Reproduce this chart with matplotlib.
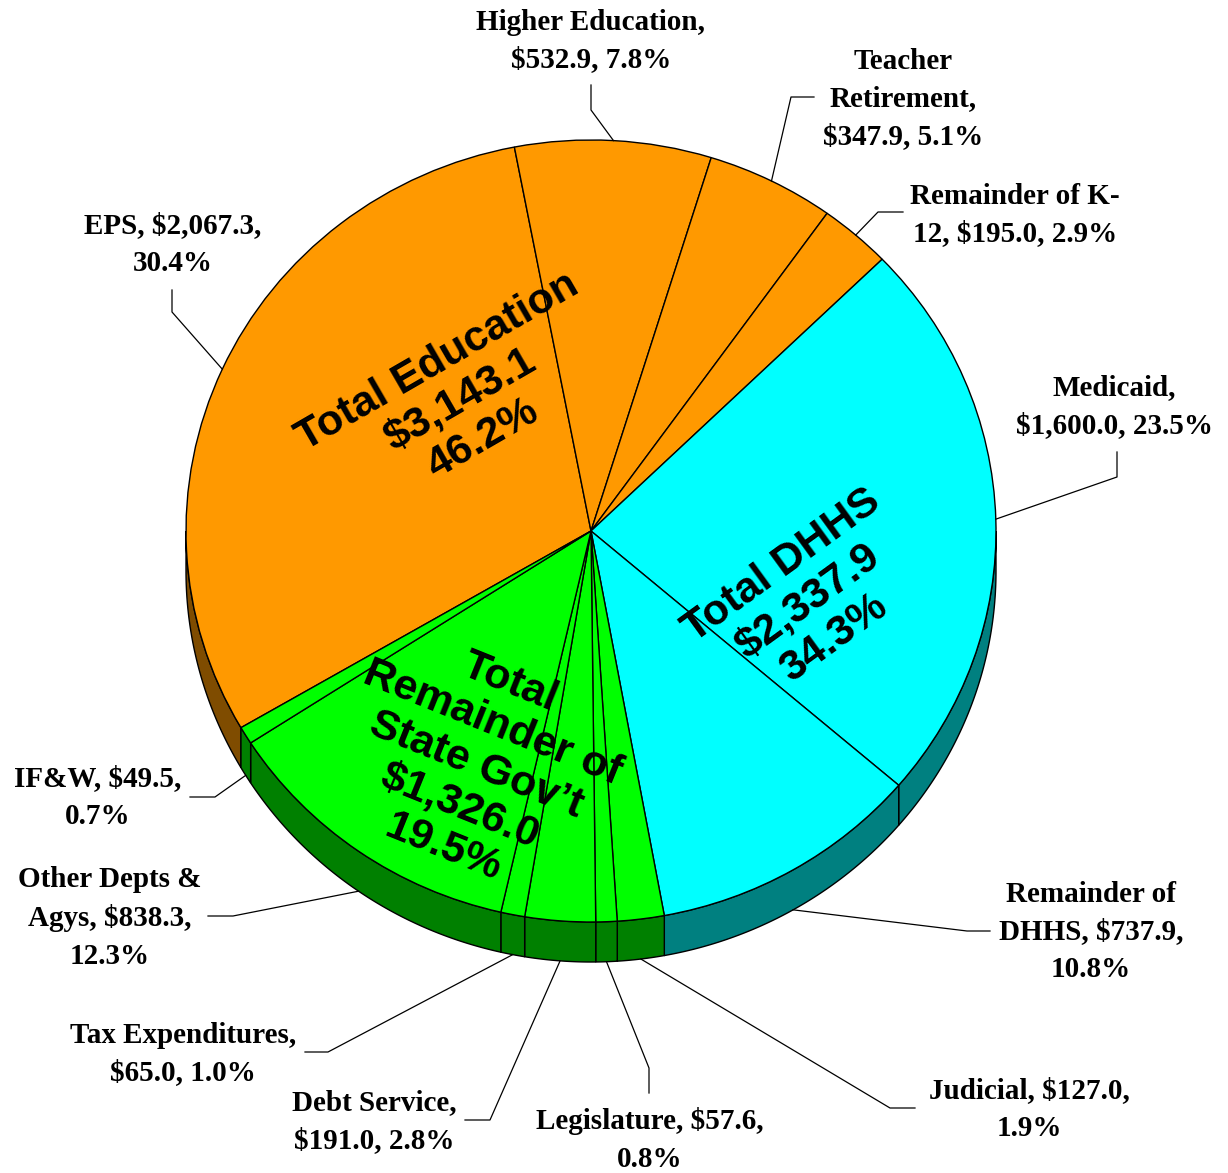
import numpy as np
import matplotlib
matplotlib.use("Agg")
import matplotlib.pyplot as plt

# ---------------- data ----------------
categories = ["EPS", "Higher Education", "Teacher Retirement", "Remainder of K-12",
              "Medicaid", "Remainder of DHHS", "Judicial", "Legislature",
              "Debt Service", "Tax Expenditures", "Other Depts & Agys", "IF&W"]
values = [2067.3, 532.9, 347.9, 195.0, 1600.0, 737.9, 127.0, 57.6, 191.0, 65.0, 838.3, 49.5]
groups = ["edu", "edu", "edu", "edu", "dhhs", "dhhs", "gov", "gov", "gov", "gov", "gov", "gov"]
slice_labels = ["EPS, $2,067.3,\n30.4%",
                "Higher Education,\n$532.9, 7.8%",
                "Teacher\nRetirement,\n$347.9, 5.1%",
                "Remainder of K-\n12, $195.0, 2.9%",
                "Medicaid,\n$1,600.0, 23.5%",
                "Remainder of\nDHHS, $737.9,\n10.8%",
                "Judicial, $127.0,\n1.9%",
                "Legislature, $57.6,\n0.8%",
                "Debt Service,\n$191.0, 2.8%",
                "Tax Expenditures,\n$65.0, 1.0%",
                "Other Depts &\nAgys, $838.3,\n12.3%",
                "IF&W, $49.5,\n0.7%"]
group_keys = ["edu", "dhhs", "gov"]
group_names = ["Total Education", "Total DHHS", "Total\nRemainder of\nState Gov\u2019t"]
group_totals = ["$3,143.1", "$2,337.9", "$1,326.0"]
group_pcts = ["46.2%", "34.3%", "19.5%"]

# ---------------- layout (pixels, origin top-left) ----------------
W, H = 1228, 1173
CX, CY, RX, RY, DEPTH = 591, 531, 405, 391, 40
START_ANGLE = 210.2

top_colors = {"edu": "#FF9900", "dhhs": "#00FFFF", "gov": "#00FF00"}
side_colors = {"edu": "#7F4C00", "dhhs": "#008080", "gov": "#008000"}

label_pos = [(173, 245), (591, 41), (903, 99), (1015, 215), (1114, 407), (1091, 932),
             (1029, 1110), (650, 1140), (374, 1122), (183, 1054), (110, 918), (98, 798)]
leader_elbow = [(172, 312), (591, 110), (791, 97), (878, 212), (1117, 477), (967, 931),
                (890, 1108), (649, 1068), (490, 1120), (328, 1052), (233, 916), (215, 797)]
leader_end = [(172, 290), (591, 85), (814, 97), (903, 212), (1117, 452), (990, 931),
              (915, 1108), (649, 1093), (465, 1120), (305, 1052), (208, 916), (190, 797)]
group_text_pos = [(460, 400), (808, 602), (476, 765)]
group_text_rot = [30, 36, -22]

# ---------------- figure ----------------
fig = plt.figure(figsize=(W / 100, H / 100), dpi=100)
ax = fig.add_axes([0, 0, 1, 1])
wedges, _ = ax.pie(values, startangle=START_ANGLE, counterclock=False,
                   colors=[top_colors[g] for g in groups],
                   wedgeprops=dict(edgecolor="black", linewidth=1.0), radius=1)
ax.set_aspect("auto")
ax.set_xlim(-CX / RX, (W - CX) / RX)
ax.set_ylim(-(H - CY) / RY, CY / RY)
ax.axis("off")
d = DEPTH / RY

# side walls (visible lower half)
for w, g in zip(wedges, groups):
    t1n = w.theta1 % 360
    t2n = t1n + (w.theta2 - w.theta1)
    for lo, hi in [(180, 360), (540, 720)]:
        a, b = max(t1n, lo), min(t2n, hi)
        if b > a:
            ts = np.radians(np.linspace(a, b, 120))
            xs = np.concatenate([np.cos(ts), np.cos(ts[::-1])])
            ys = np.concatenate([np.sin(ts), np.sin(ts[::-1]) - d])
            ax.fill(xs, ys, facecolor=side_colors[g], edgecolor="black",
                    linewidth=1.0, zorder=0.5)

# overlay axes in pixel space
lab = fig.add_axes([0, 0, 1, 1])
lab.set_xlim(0, W)
lab.set_ylim(H, 0)
lab.axis("off")
lab.set_facecolor("none")

fig.canvas.draw()
for w, txt, pos, el, en in zip(wedges, slice_labels, label_pos, leader_elbow, leader_end):
    mid = np.radians((w.theta1 + w.theta2) / 2)
    x, y = np.cos(mid), np.sin(mid)
    if y < 0:
        y -= d
    dx, dy = ax.transData.transform((x, y))
    px, py = dx, H - dy
    lab.plot([px, el[0], en[0]], [py, el[1], en[1]], color="black", linewidth=0.9)
    lab.text(pos[0], pos[1], txt, ha="center", va="center", multialignment="center",
             fontsize=21, fontweight="bold", family="Liberation Serif", linespacing=1.52)

for name, tot, pct, pos, rot in zip(group_names, group_totals, group_pcts,
                                     group_text_pos, group_text_rot):
    lab.text(pos[0], pos[1], f"{name}\n{tot}\n{pct}", ha="center", va="center",
             multialignment="center", rotation=rot, rotation_mode="anchor",
             fontsize=31, fontweight="bold", family="Liberation Sans", linespacing=1.15)

fig.savefig("out.png", dpi=100, facecolor="white")
